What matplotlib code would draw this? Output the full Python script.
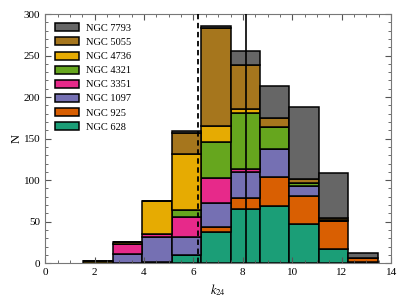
import numpy as np
import matplotlib
matplotlib.use("Agg")
import matplotlib.pyplot as plt
from matplotlib.ticker import MultipleLocator

# histogram bins (left edges) and width
bin_left = [1.55, 2.74, 3.93, 5.12, 6.31, 7.50, 8.69, 9.88, 11.07, 12.26]
bin_width = 1.19

# counts per galaxy, bottom of the stack first
galaxies = ["NGC 628", "NGC 925", "NGC 1097", "NGC 3351",
            "NGC 4321", "NGC 4736", "NGC 5055", "NGC 7793"]
n628  = [0, 0, 1, 10, 37, 65, 69, 47, 17, 2]
n925  = [0, 0, 0, 0, 6, 14, 35, 34, 34, 4]
n1097 = [0, 11, 30, 22, 30, 31, 34, 12, 0, 0]
n3351 = [0, 12, 4, 24, 29, 4, 0, 0, 0, 0]
n4321 = [0, 0, 0, 8, 44, 67, 26, 3, 0, 0]
n4736 = [3, 3, 40, 68, 19, 5, 0, 1, 1, 0]
n5055 = [0, 0, 0, 25, 118, 53, 11, 4, 3, 0]
n7793 = [0, 0, 0, 2, 3, 17, 38, 87, 54, 6]
counts = [n628, n925, n1097, n3351, n4321, n4736, n5055, n7793]

colors = ["#1b9e77", "#d95f02", "#7570b3", "#e7298a",
          "#66a61e", "#e6ab02", "#a6761d", "#666666"]

k24_dashed = 6.17
k24_solid = 8.12

plt.rcParams['font.family'] = ['Liberation Serif', 'DejaVu Serif']
plt.rcParams['mathtext.fontset'] = 'stix'

fig = plt.figure(figsize=(4.07, 3.05), dpi=100)
ax = fig.add_axes([0.111, 0.137, 0.850, 0.817])

bottom = np.zeros(len(bin_left))
for name, c, col in zip(galaxies, counts, colors):
    ax.bar(bin_left, c, width=bin_width, bottom=bottom, align='edge',
           color=col, edgecolor='black', linewidth=1.1, label=name)
    bottom = bottom + np.array(c)

ax.axvline(k24_dashed, color='black', ls=(0, (3, 2)), lw=1.3, zorder=5)
ax.axvline(k24_solid, color='black', lw=1.2, zorder=5)

ax.set_xlim(0, 14)
ax.set_ylim(0, 300)
ax.xaxis.set_major_locator(MultipleLocator(2))
ax.xaxis.set_minor_locator(MultipleLocator(0.5))
ax.yaxis.set_major_locator(MultipleLocator(50))
ax.yaxis.set_minor_locator(MultipleLocator(10))
ax.tick_params(which='both', direction='in', top=True, right=True,
               labelsize=8, color='#555555')
ax.tick_params(which='major', length=4)
ax.tick_params(which='minor', length=2)
for s in ax.spines.values():
    s.set_color('#777777')

ax.set_xlabel(r'$k_{24}$', fontsize=9)
ax.set_ylabel('N', fontsize=9, labelpad=1)

h, l = ax.get_legend_handles_labels()
ax.legend(h[::-1], l[::-1], loc='upper left', frameon=False, fontsize=7.5,
          handlelength=2.3, handleheight=0.8, labelspacing=0.43,
          borderaxespad=0.5, handletextpad=0.7)

fig.savefig("out.png", dpi=100)
